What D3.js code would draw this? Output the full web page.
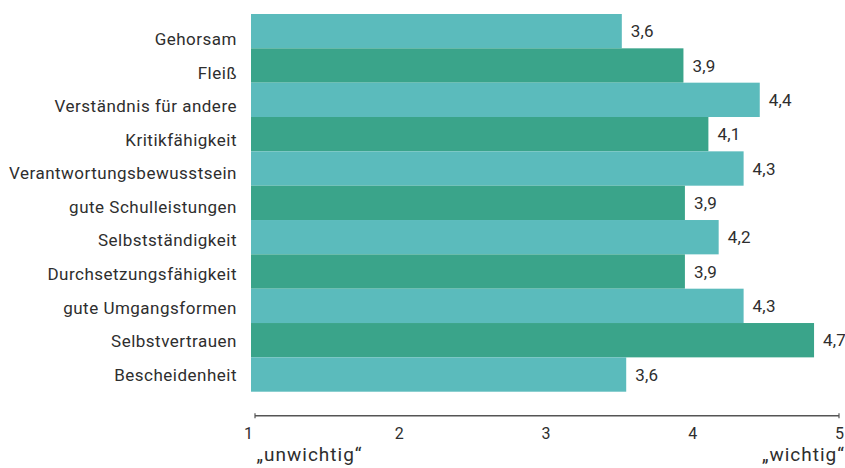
<!DOCTYPE html>
<html>
<head>
<meta charset="utf-8">
<script src="https://cdn.jsdelivr.net/npm/d3@7"></script>
<style>
  html, body { margin: 0; padding: 0; background: #fff; }
  svg { display: block; }
  text { font-family: Roboto, "Liberation Sans", sans-serif; fill: #2e2e2e; }
</style>
</head>
<body>
<svg id="chart" width="845" height="468"></svg>
<script>
// Data
const categories = [
  "Gehorsam", "Fleiß", "Verständnis für andere", "Kritikfähigkeit",
  "Verantwortungsbewusstsein", "gute Schulleistungen", "Selbstständigkeit",
  "Durchsetzungsfähigkeit", "gute Umgangsformen", "Selbstvertrauen", "Bescheidenheit"
];
// bar lengths as drawn (read against the 1–5 axis)
const barValues = [3.52, 3.94, 4.46, 4.11, 4.35, 3.95, 4.18, 3.95, 4.35, 4.83, 3.55];
// values printed next to the bars
const valueLabels = ["3,6", "3,9", "4,4", "4,1", "4,3", "3,9", "4,2", "3,9", "4,3", "4,7", "3,6"];
const tickValues = [1, 2, 3, 4, 5];
const scaleEnds = ["„unwichtig“", "„wichtig“"];
const colors = ["#5bbbbc", "#3aa48a"];

const svg = d3.select("#chart");

const x = d3.scaleLinear().domain([1, 5]).range([252, 839]);
const y = d3.scaleBand().domain(categories).range([14, 391.7]).padding(0);
const yLabel = d3.scalePoint().domain(categories).range([45, 380.7]);

// Bars
svg.append("g").selectAll("rect")
  .data(categories)
  .join("rect")
  .attr("x", x(1) - 1)
  .attr("y", d => y(d))
  .attr("width", (d, i) => x(barValues[i]) - x(1) + 1)
  .attr("height", y.bandwidth())
  .attr("fill", (d, i) => colors[i % 2]);

// Category labels
svg.append("g").selectAll("text")
  .data(categories)
  .join("text")
  .attr("x", 237)
  .attr("y", d => yLabel(d))
  .attr("text-anchor", "end")
  .style("font-size", "17px")
  .style("letter-spacing", "0.5px")
  .text(d => d);

// Value labels
svg.append("g").selectAll("text")
  .data(categories)
  .join("text")
  .attr("x", (d, i) => x(barValues[i]) + 9)
  .attr("y", d => y(d) + y.bandwidth() / 2 + 6)
  .style("font-size", "17px")
  .style("letter-spacing", "0.2px")
  .text((d, i) => valueLabels[i]);

// Axis
const axis = d3.axisBottom(x)
  .tickValues(tickValues)
  .tickFormat(d3.format("d"))
  .tickSize(0)
  .tickPadding(0);
const ag = svg.append("g").attr("transform", "translate(0,415.7)").call(axis);
ag.select(".domain").remove();
ag.append("line")
  .attr("x1", x(1) + 3).attr("x2", x(5))
  .attr("stroke", "#555").attr("stroke-width", 1.6);
ag.selectAll(".endtick")
  .data([1, 5])
  .join("line")
  .attr("class", "endtick")
  .attr("x1", (d, i) => i === 0 ? x(d) + 3 : x(d))
  .attr("x2", (d, i) => i === 0 ? x(d) + 3 : x(d))
  .attr("y1", -2.5).attr("y2", 2.5)
  .attr("stroke", "#555").attr("stroke-width", 1.2);
ag.selectAll(".tick text")
  .attr("dy", null)
  .attr("y", 23.5)
  .style("font-size", "16px")
  .style("font-family", "Roboto, 'Liberation Sans', sans-serif")
  .attr("fill", "#2e2e2e")
  .attr("dx", d => d === 1 ? -4 : 0);

// Scale end labels
svg.append("text")
  .attr("x", 256.5).attr("y", 460.5)
  .attr("text-anchor", "start")
  .style("font-size", "19px")
  .style("letter-spacing", "1px")
  .text(scaleEnds[0]);
svg.append("text")
  .attr("x", 845).attr("y", 460.5)
  .attr("text-anchor", "end")
  .style("font-size", "19px")
  .style("letter-spacing", "1px")
  .text(scaleEnds[1]);
</script>
</body>
</html>
